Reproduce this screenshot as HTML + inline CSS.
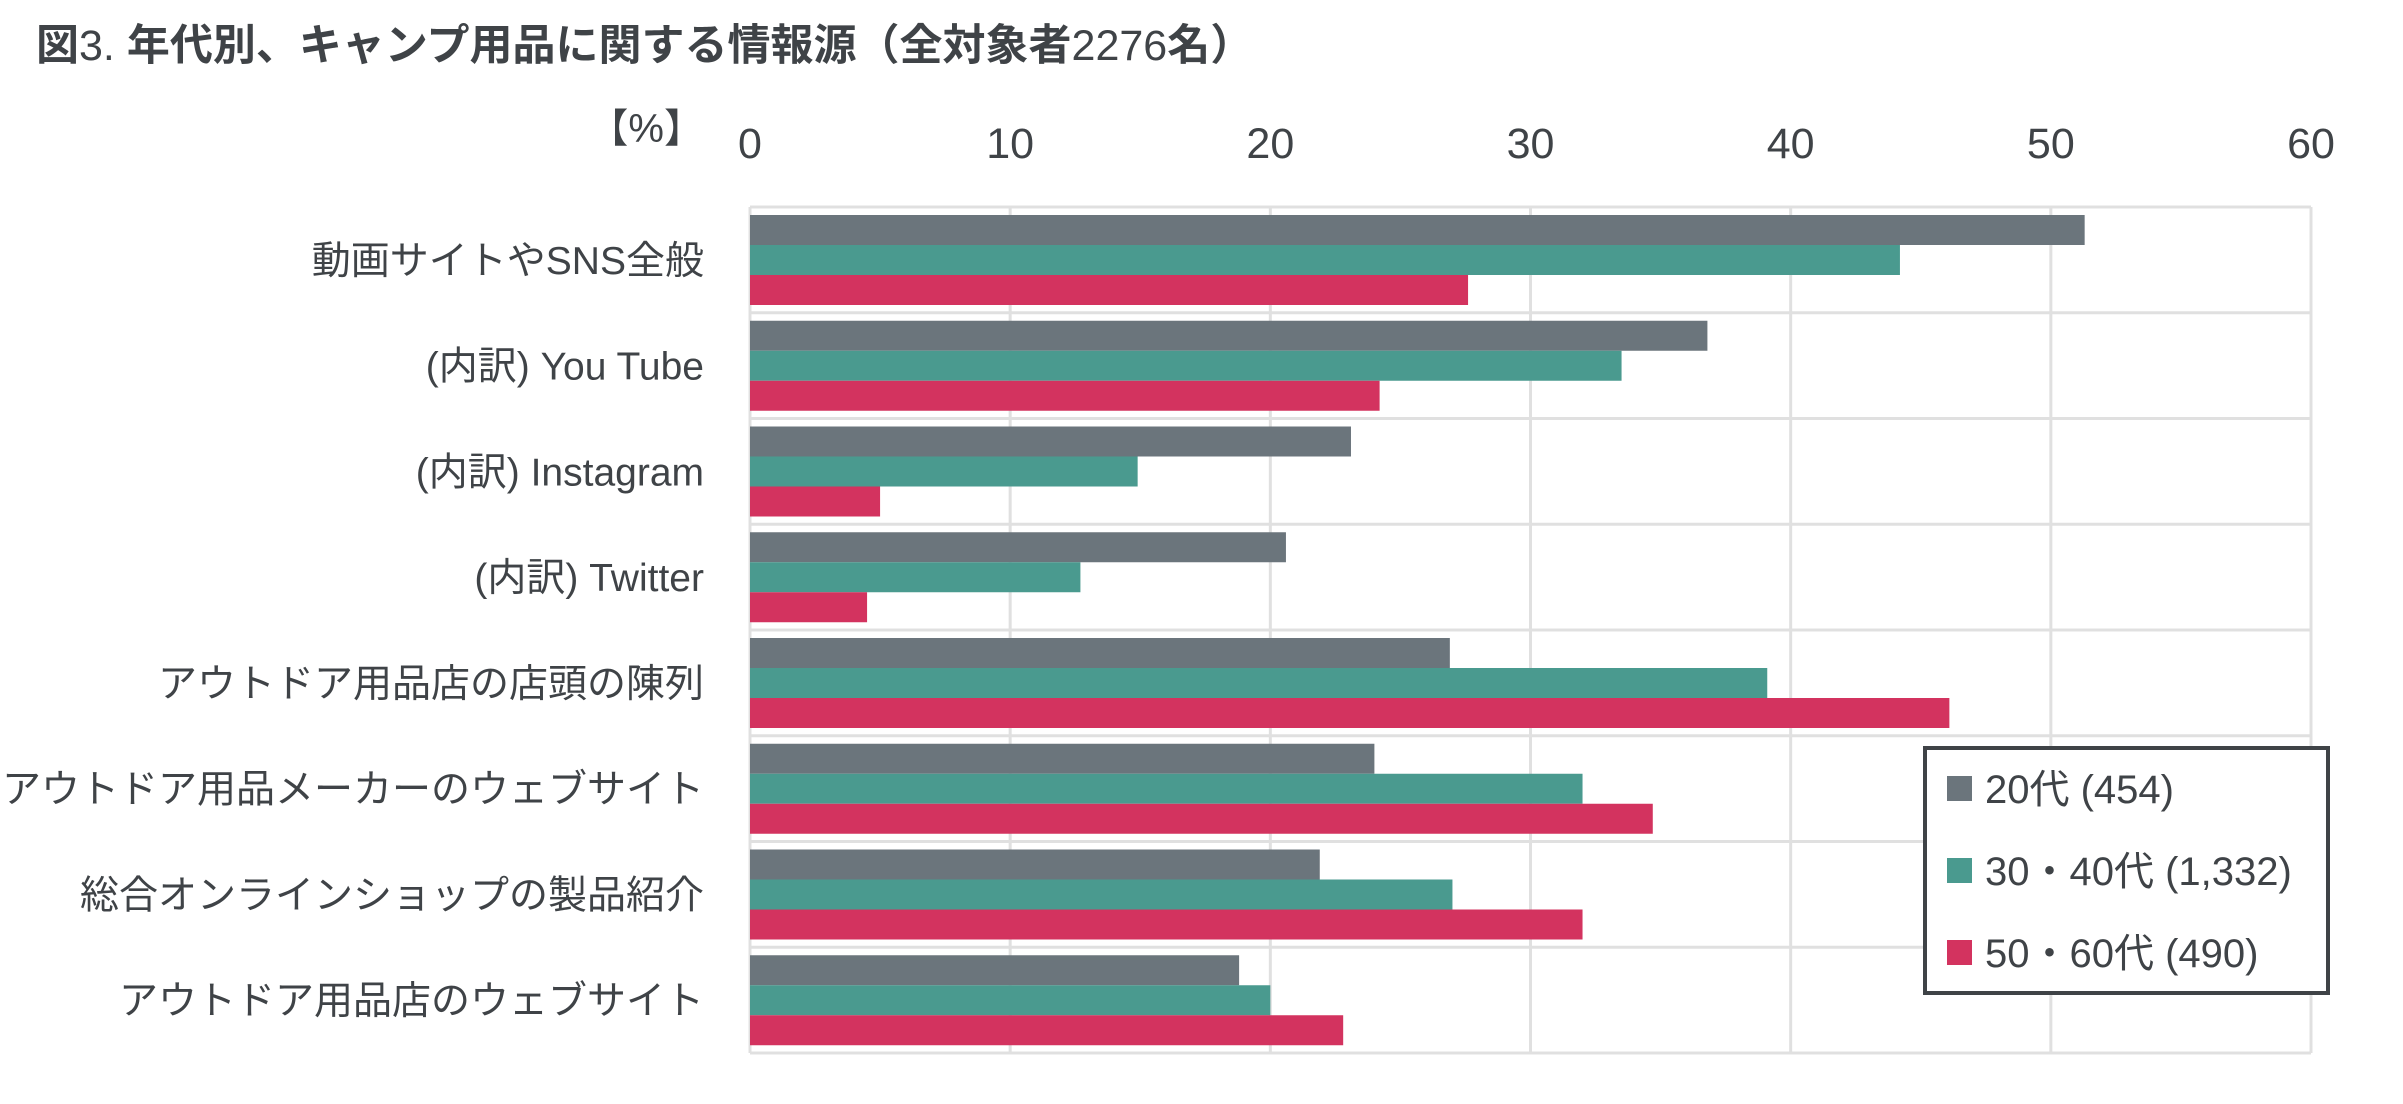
<!DOCTYPE html>
<html><head><meta charset="utf-8"><style>
body{margin:0;background:#fff;}
svg{display:block;font-family:"Liberation Sans","Noto Sans CJK JP",sans-serif;}
</style></head><body>
<svg id="chart" width="2403" height="1104" viewBox="0 0 2403 1104" xmlns="http://www.w3.org/2000/svg">
<text x="36" y="60" font-size="43" font-weight="bold" fill="#3f4347">図<tspan font-weight="normal">3.</tspan> 年代別、キャンプ用品に関する情報源（全対象者<tspan font-weight="normal">2276</tspan>名）</text>
<text x="704" y="142" text-anchor="end" font-size="40" fill="#3f4347">【%】</text>
<g id="grid"></g>
<g id="bars"></g>
<g id="labels"></g>
<g>
<rect x="1925" y="748" width="403" height="245" fill="#fff" stroke="#3f4347" stroke-width="4"/>
<rect x="1947" y="776" width="25" height="25" fill="#6b757c"/>
<text x="1985" y="803" font-size="40" fill="#3f4347">20代 (454)</text>
<rect x="1947" y="858" width="25" height="25" fill="#4a9a8f"/>
<text x="1985" y="885" font-size="40" fill="#3f4347">30・40代 (1,332)</text>
<rect x="1947" y="940" width="25" height="25" fill="#d3335f"/>
<text x="1985" y="967" font-size="40" fill="#3f4347">50・60代 (490)</text>
</g>
</svg>
<script>
const categories=["動画サイトやSNS全般","(内訳) You Tube","(内訳) Instagram","(内訳) Twitter","アウトドア用品店の店頭の陳列","アウトドア用品メーカーのウェブサイト","総合オンラインショップの製品紹介","アウトドア用品店のウェブサイト"];
const s20=[51.3,36.8,23.1,20.6,26.9,24.0,21.9,18.8];
const s3040=[44.2,33.5,14.9,12.7,39.1,32.0,27.0,20.0];
const s5060=[27.6,24.2,5.0,4.5,46.1,34.7,32.0,22.8];
const ticks=[0,10,20,30,40,50,60];
const NS="http://www.w3.org/2000/svg";
const x0=750,x1=2311,yTop=207,yBottom=1053;
const rowH=(yBottom-yTop)/categories.length;
function xs(v){return x0+(v-0)/(60-0)*(x1-x0);}
function mk(tag,attrs,parent){const e=document.createElementNS(NS,tag);for(const k in attrs)e.setAttribute(k,attrs[k]);parent.appendChild(e);return e;}
const grid=document.getElementById('grid'),bars=document.getElementById('bars'),labels=document.getElementById('labels');
ticks.forEach(t=>{
  const l=mk('line',{x1:xs(t),x2:xs(t),y1:yTop,y2:yBottom,stroke:'#e0e0e0','stroke-width':3},grid);
  
  
  const tx=mk('text',{x:xs(t),y:158,'text-anchor':'middle','font-size':43,fill:'#3f4347'},labels);
  tx.textContent=t;
  
  
});
for(let i=0;i<=categories.length;i++){
  const y=yTop+i*rowH;
  const l=mk('line',{x1:x0,x2:x1,y1:y,y2:y,stroke:'#e0e0e0','stroke-width':3},grid);
  
  
}
const series=[[s20,'#6b757c','20s'],[s3040,'#4a9a8f','30-40s'],[s5060,'#d3335f','50-60s']];
categories.forEach((c,i)=>{
  const y=yTop+i*rowH;
  series.forEach((s,j)=>{
    const r=mk('rect',{x:x0,y:y+8+j*30,width:xs(s[0][i])-x0,height:30,fill:s[1]},bars);
    
    
  });
  const t=mk('text',{x:704,y:y+rowH/2+14,'text-anchor':'end','font-size':39,fill:'#3f4347'},labels);
  t.textContent=c;
  
  
});
</script>
</body></html>
